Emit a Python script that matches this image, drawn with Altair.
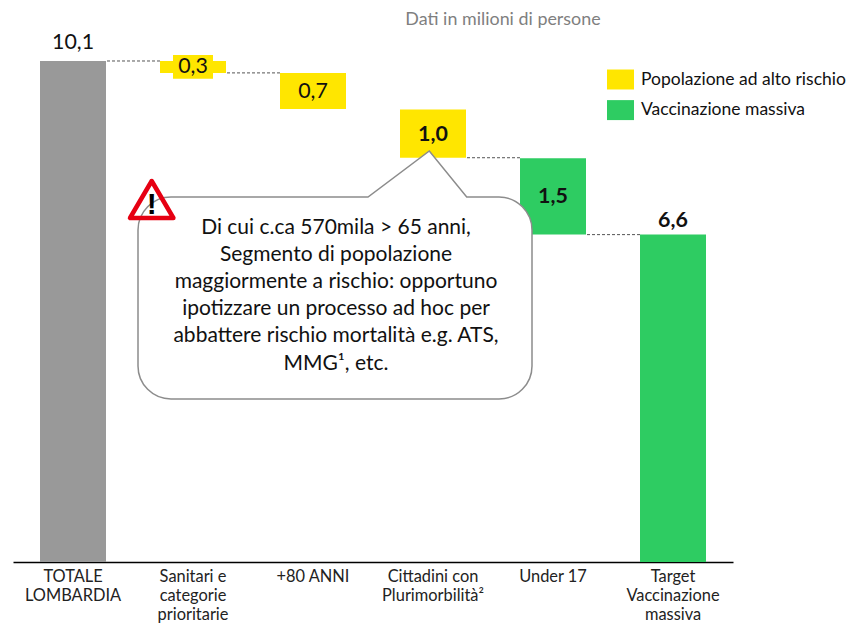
import altair as alt
import pandas as pd

categories = ["TOTALE\nLOMBARDIA", "Sanitari e\ncategorie\nprioritarie", "+80 ANNI",
              "Cittadini con\nPlurimorbilità²", "Under 17", "Target\nVaccinazione\nmassiva"]
bar_top = [10.1, 10.1, 9.86, 9.12, 8.14, 6.6]
bar_bottom = [0, 9.86, 9.13, 8.15, 6.6, 0]
groups = ["Totale", "Popolazione ad alto rischio", "Popolazione ad alto rischio",
          "Popolazione ad alto rischio", "Vaccinazione massiva", "Vaccinazione massiva"]
labels = ["10,1", "0,3", "0,7", "1,0", "1,5", "6,6"]
label_pos = [10.46, 9.98, 9.48, 8.61, 7.36, 6.88]
label_bold = [False, False, False, True, True, True]
connector_from = [0, 1, 3, 4]
connector_level = [10.1, 9.86, 8.15, 6.6]
callout_lines = "Di cui c.ca 570mila > 65 anni,\nSegmento di popolazione\nmaggiormente a rischio: opportuno\nipotizzare un processo ad hoc per\nabbattere rischio mortalità e.g. ATS,\nMMG¹, etc."
subtitle = "Dati in milioni di persone"
legend_names = ["Popolazione ad alto rischio", "Vaccinazione massiva"]
legend_colors = ["#FFE600", "#2ECC62"]

FONT = "Lato"
W, H = 720, 546
PX_PER_UNIT = 49.604

bars = pd.DataFrame({"cat": categories, "top": bar_top, "bottom": bar_bottom, "group": groups})
lab = pd.DataFrame({"cat": categories, "label": labels, "pos": label_pos, "bold": label_bold})
conn = pd.DataFrame(
    {"cat": [categories[i] for i in connector_from],
     "next": [categories[i + 1] for i in connector_from],
     "level": connector_level}
)

x_scale = alt.Scale(domain=categories, paddingInner=0.45, paddingOuter=0.225)
x = alt.X(
    "cat:N",
    sort=categories,
    title=None,
    scale=x_scale,
    axis=alt.Axis(
        labelExpr="split(datum.value, '\\n')", labelAngle=0, labelFont=FONT, labelFontSize=16.4,
        labelColor="#222222", labelLineHeight=19, labelBaseline="top", labelPadding=6, labelLimit=0,
        ticks=False, grid=False, domainColor="#000000", domainWidth=1.5, labelOverlap=False,
    ),
)
y_scale = alt.Scale(domain=[0, H / PX_PER_UNIT], nice=False, zero=False)
y = alt.Y("top:Q", title=None, axis=None, scale=y_scale)

connectors = alt.Chart(conn).mark_rule(
    color="#555555", strokeWidth=1, strokeDash=[3, 2], xOffset=34, x2Offset=-33
).encode(
    x=x,
    x2=alt.X2("next:N"),
    y=alt.Y("level:Q", title=None, axis=None, scale=y_scale),
)
grey_bar = alt.Chart(bars[bars.group == "Totale"]).mark_bar(color="#999999").encode(x=x, y=y, y2="bottom:Q")
color_bars = alt.Chart(bars[bars.group != "Totale"]).mark_bar().encode(
    x=x, y=y, y2="bottom:Q",
    color=alt.Color(
        "group:N",
        scale=alt.Scale(domain=legend_names, range=legend_colors),
        legend=alt.Legend(
            title=None, orient="none", legendX=594, legendY=50, symbolType="M-1,-0.74H1V0.74H-1Z",
            symbolSize=729, symbolOpacity=1, labelFont=FONT, labelFontSize=17.5, labelColor="#111111",
            rowPadding=6.6, labelOffset=7, symbolStrokeWidth=0, padding=0, labelLimit=0,
        ),
    ),
)
box_df = pd.DataFrame({"cat": [categories[1]], "top": [10.22], "bottom": [9.74]})
label_box = alt.Chart(box_df).mark_bar(size=40, color="#FFE600").encode(x=x, y=y, y2="bottom:Q")

def value_text(df, weight):
    return alt.Chart(df).mark_text(font=FONT, fontSize=21.4, fontWeight=weight, color="#111111", baseline="middle").encode(
        x=x, y=alt.Y("pos:Q", title=None, axis=None, scale=y_scale), text="label:N"
    )

regular = value_text(lab[~lab.bold], "normal")
bold = value_text(lab[lab.bold], "bold")

# annotation shapes, in plot pixels
callout_path = ("M158,181 L355,181 L416.3,135 L453.7,181 L486,181 A33,33 0 0 1 519,214 L519,350 "
                "A33,33 0 0 1 486,383 L158,383 A33,33 0 0 1 125,350 L125,214 A33,33 0 0 1 158,181 Z")
triangle_path = "M138.7,165 L117,202 L160.4,202 Z"
anchor = pd.DataFrame({"a": ["shape"]})
callout = alt.Chart(anchor).mark_point(
    shape=callout_path, size=4, filled=True, fill="#FFFFFF", fillOpacity=1, stroke="#8C8C8C", strokeWidth=1.5, opacity=1
).encode(x=alt.value(0), y=alt.value(0))
triangle = alt.Chart(anchor).mark_point(
    shape=triangle_path, size=4, filled=False, stroke="#E60012", strokeWidth=4.5, strokeJoin="round", opacity=1
).encode(x=alt.value(0), y=alt.value(0))

def text_layer(text, px, py, **kw):
    return alt.Chart(pd.DataFrame({"t": [text]})).mark_text(**kw).encode(x=alt.value(px), y=alt.value(py), text="t:N")

excl = text_layer("!", 138.7, 198, font="Liberation Sans", fontSize=30, fontWeight="bold", color="#000000", baseline="alphabetic")
callout_text = text_layer(callout_lines, 323, 200.5, font=FONT, fontSize=21, color="#111111", align="center",
                          baseline="top", lineBreak="\n", lineHeight=27.2)
title_text = text_layer(subtitle, 490, 3.5, font=FONT, fontSize=17.9, color="#7F7F7F", align="center", baseline="middle")

chart = alt.layer(
    grey_bar, color_bars, label_box, connectors, regular, bold, callout, triangle, excl, callout_text, title_text
).properties(
    width=W, height=H,
    padding={"left": 5, "top": 8, "right": 115, "bottom": 61},
    autosize=alt.AutoSizeParams(type="none"),
    background="#FFFFFF",
).configure_view(stroke=None)

chart.save("out.html", embed_options={"renderer": "svg", "actions": False})
